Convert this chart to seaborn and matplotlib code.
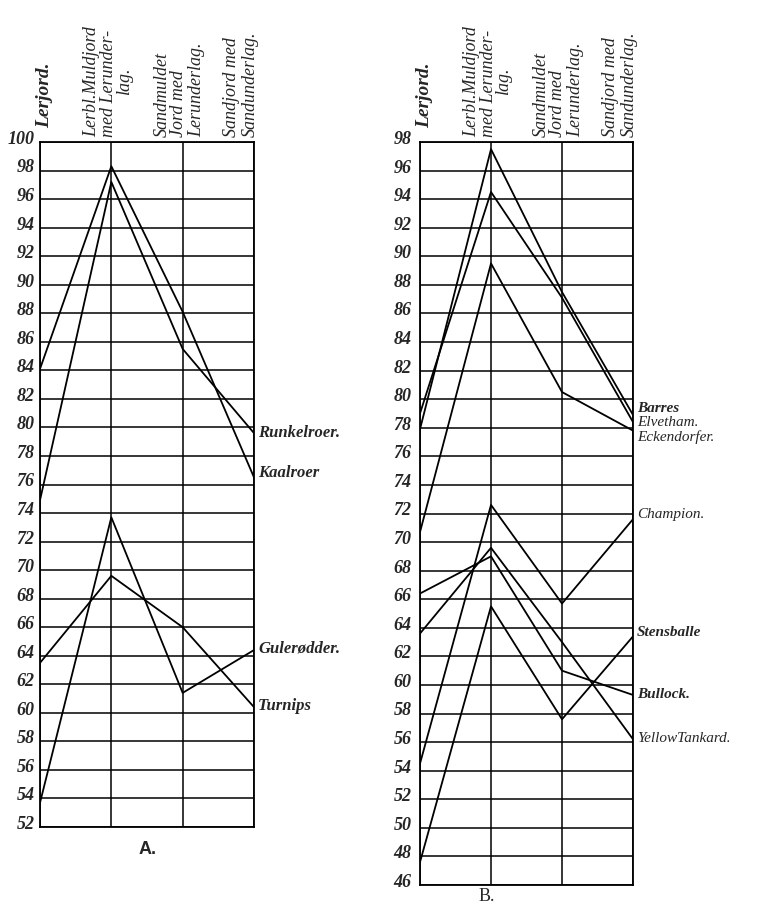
import matplotlib
matplotlib.use("Agg")
import numpy as np
import pandas as pd
import seaborn as sns
import matplotlib.pyplot as plt
from matplotlib.transforms import ScaledTranslation

# soil types (columns)
soils = ["Lerjord", "Lerbl. Muldjord", "Sandmuldet Jord", "Sandjord"]

# panel A
a_names = ["Runkelroer.", "Kaalroer", "Gulerødder.", "Turnips"]
runkelroer = [74.9, 97.2, 85.5, 79.6]
kaalroer = [84.1, 98.3, 88.1, 76.5]
gulerodder = [53.7, 73.7, 61.4, 64.4]
turnips = [63.5, 69.6, 66.0, 60.4]
a_ticks = list(range(52, 101, 2))

# panel B
b_names = ["Barres", "Elvetham.", "Eckendorfer.", "Champion.",
           "Stensballe", "Bullock.", "YellowTankard."]
barres = [77.9, 97.5, 87.5, 78.9]
elvetham = [79.0, 94.5, 87.1, 78.4]
eckendorfer = [70.7, 89.5, 80.5, 77.8]
champion = [54.5, 72.6, 65.7, 71.6]
stensballe = [47.6, 65.5, 57.6, 63.4]
bullock = [66.4, 69.0, 61.0, 59.3]
yellow_tankard = [63.6, 69.6, 63.0, 56.2]
b_ticks = list(range(46, 99, 2))


def long_df(names, series):
    rows = []
    for n, vals in zip(names, series):
        for i, v in enumerate(vals):
            rows.append({"crop": n, "soil": i, "value": v})
    return pd.DataFrame(rows)


df_a = long_df(a_names, [runkelroer, kaalroer, gulerodder, turnips])
df_b = long_df(b_names, [barres, elvetham, eckendorfer, champion,
                         stensballe, bullock, yellow_tankard])

sns.set_style("white")
plt.rcParams["font.family"] = ["Liberation Serif", "DejaVu Serif"]

fig = plt.figure(figsize=(7.62, 9.12), dpi=100)
W, H = 762, 912
ax_a = fig.add_axes([40 / W, (H - 828) / H, 214 / W, 685 / H])
ax_b = fig.add_axes([420 / W, (H - 886) / H, 213 / W, 743 / H])

# header lines: (column, x shift in data units, text, pixels above top, va)
header = [
    (0, 0.07, "Lerjord.", 15, "bottom", "bold", 14),
    (1, -0.27, "Lerbl.Muldjord", 6, "bottom", "normal", 13),
    (1, -0.04, "med Lerunder-", 6, "bottom", "normal", 13),
    (1, 0.18, "lag.", 62, "center", "normal", 13),
    (2, -0.29, "Sandmuldet", 6, "bottom", "normal", 13),
    (2, -0.06, "Jord med", 6, "bottom", "normal", 13),
    (2, 0.19, "Lerunderlag.", 6, "bottom", "normal", 13),
    (3, -0.31, "Sandjord med", 6, "bottom", "normal", 13),
    (3, -0.05, "Sandunderlag.", 6, "bottom", "normal", 13),
]

a_label_shift = {"Runkelroer.": 1, "Kaalroer": 5, "Gulerødder.": 3, "Turnips": 2}
b_label_shift = {"Barres": 7, "Elvetham.": 1, "Eckendorfer.": -5, "Champion.": 6,
                 "Stensballe": 5, "Bullock.": 1, "YellowTankard.": 2}
b_weights = {"Barres": "bold", "Elvetham.": "normal", "Eckendorfer.": "normal",
             "Champion.": "normal", "Stensballe": "bold", "Bullock.": "bold",
             "YellowTankard.": "normal"}


def draw(ax, df, names, ticks, shifts, weights, fsize, pad):
    sns.lineplot(data=df, x="soil", y="value", hue="crop", units="crop",
                 estimator=None, sort=False, palette=["black"] * len(names),
                 linewidth=1.3, legend=False, ax=ax)
    ax.set_xlim(0, 3)
    ax.set_ylim(ticks[0], ticks[-1])
    ax.set_xticks([0, 1, 2, 3])
    ax.set_xticklabels([])
    ax.set_yticks(ticks)
    ax.set_yticklabels([str(t) for t in ticks], fontsize=13,
                       fontstyle="italic", fontweight="bold")
    ax.tick_params(axis="both", length=0, pad=pad)
    for lab in ax.get_yticklabels():
        lab.set_transform(lab.get_transform() +
                          ScaledTranslation(0, 4 / 72, ax.figure.dpi_scale_trans))
    ax.grid(True, color="black", linewidth=1.1)
    ax.set_xlabel("")
    ax.set_ylabel("")
    for s in ax.spines.values():
        s.set_color("black")
        s.set_linewidth(1.3)
        s.set_visible(True)
    for col, dx, txt, dy, va, wt, fs in header:
        ax.annotate(txt, xy=(col + dx, 1), xycoords=("data", "axes fraction"),
                    xytext=(0, dy * 0.72), textcoords="offset points",
                    rotation=90, ha="center", va=va, fontsize=fs,
                    fontstyle="italic", fontweight=wt, annotation_clip=False)
    last = df[df["soil"] == 3].set_index("crop")["value"]
    for n in names:
        ax.annotate(n, xy=(3, last[n]), xytext=(3, shifts[n] * 0.72),
                    textcoords="offset points", ha="left", va="center",
                    fontsize=fsize, fontstyle="italic",
                    fontweight=weights.get(n, "bold"), annotation_clip=False)


draw(ax_a, df_a, a_names, a_ticks, a_label_shift, {}, 12, 4)
draw(ax_b, df_b, b_names, b_ticks, b_label_shift, b_weights, 11, 6)

fig.text(148 / W, 1 - 850 / H, "A.", ha="center", va="center",
         fontsize=13, fontweight="bold", family="Liberation Sans")
fig.text(487 / W, 1 - 897 / H, "B.", ha="center", va="center",
         fontsize=13, family="Liberation Serif")

fig.savefig("out.png", dpi=100, facecolor="white")
